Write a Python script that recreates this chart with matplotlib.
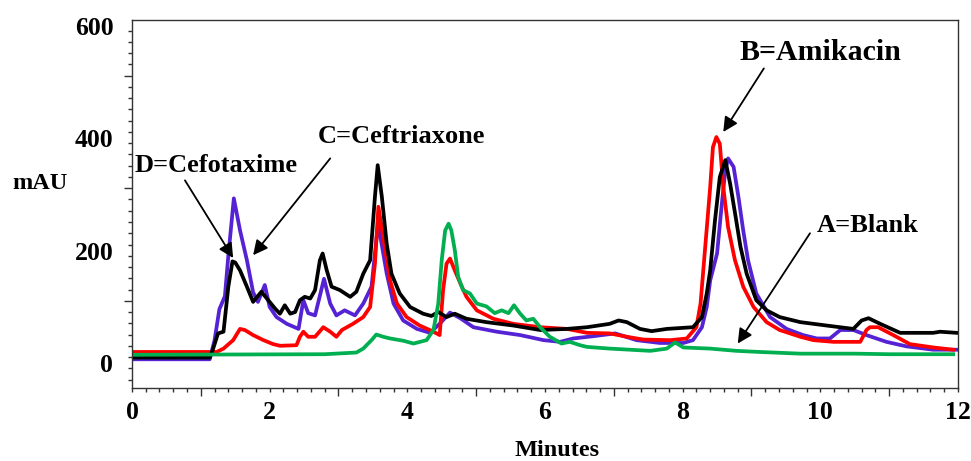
import matplotlib
matplotlib.use('Agg')
import matplotlib.pyplot as plt
import numpy as np
from matplotlib.ticker import FixedLocator, FuncFormatter, NullFormatter
from matplotlib.transforms import ScaledTranslation

plt.rcParams['font.family'] = ['Liberation Serif', 'DejaVu Serif']
plt.rcParams['font.weight'] = 'bold'

# A = Blank (green)
blank_x = [0, 2.8, 3.26, 3.36, 3.48, 3.55, 3.65, 3.75, 3.94, 4.09, 4.28, 4.38, 4.45, 4.50,
           4.55, 4.60, 4.64, 4.69, 4.74, 4.81, 4.91, 5.01, 5.15, 5.27, 5.37, 5.47, 5.55,
           5.64, 5.73, 5.83, 5.93, 6.07, 6.24, 6.36, 6.51, 6.61, 6.94, 7.53, 7.77, 7.89,
           8.01, 8.40, 8.78, 9.12, 9.71, 10.5, 11.0, 11.93]
blank_y = [24, 25, 28, 35, 50, 60, 56, 53, 49, 44, 50, 68, 115, 192,
           245, 257, 245, 210, 162, 139, 133, 115, 110, 98, 103, 98, 112,
           97, 85, 88, 73, 56, 44, 47, 41, 38, 35, 31, 35, 46,
           37, 35, 31, 29, 26, 26, 25, 25]

# B = Amikacin (red)
amik_x = [0, 1.23, 1.33, 1.47, 1.57, 1.64, 1.76, 1.91, 2.05, 2.15, 2.39, 2.44, 2.49, 2.56,
          2.66, 2.78, 2.88, 2.97, 3.05, 3.21, 3.36, 3.46, 3.53, 3.58, 3.68, 3.75, 3.85,
          3.99, 4.18, 4.38, 4.47, 4.52, 4.57, 4.62, 4.69, 4.77, 4.86, 5.01, 5.25, 5.54,
          5.93, 6.32, 6.61, 6.94, 7.19, 7.43, 7.82, 8.06, 8.20, 8.26, 8.32, 8.40, 8.44,
          8.49, 8.54, 8.59, 8.66, 8.76, 8.88, 9.03, 9.22, 9.41, 9.71, 9.90, 10.19, 10.58,
          10.67, 10.72, 10.84, 11.06, 11.30, 11.64, 11.93]
amik_y = [29, 29, 35, 50, 70, 68, 59, 50, 43, 40, 41, 56, 65, 56,
          56, 73, 65, 56, 68, 79, 91, 109, 186, 287, 210, 156, 115,
          91, 76, 65, 59, 139, 186, 195, 174, 151, 127, 103, 88, 79,
          73, 70, 63, 62, 56, 51, 50, 53, 73, 115, 204, 322, 393,
          411, 399, 322, 251, 192, 145, 109, 82, 68, 56, 50, 47, 47,
          68, 73, 73, 59, 43, 37, 33]

# C = Ceftriaxone (purple)
ceftri_x = [0, 1.13, 1.20, 1.27, 1.35, 1.40, 1.48, 1.57, 1.67, 1.76, 1.83, 1.93, 2.00,
            2.10, 2.25, 2.42, 2.49, 2.56, 2.66, 2.79, 2.88, 2.97, 3.09, 3.24, 3.36, 3.48,
            3.58, 3.60, 3.70, 3.80, 3.94, 4.14, 4.33, 4.47, 4.62, 4.77, 4.96, 5.30, 5.64,
            5.98, 6.22, 6.41, 6.70, 7.02, 7.33, 7.67, 8.01, 8.15, 8.28, 8.35, 8.40, 8.50,
            8.57, 8.62, 8.66, 8.74, 8.81, 8.88, 8.95, 9.07, 9.27, 9.51, 9.75, 9.95, 10.14,
            10.29, 10.48, 10.67, 10.96, 11.25, 11.64, 12.03]
ceftri_y = [16, 16, 50, 105, 128, 200, 302, 245, 192, 135, 118, 148, 109,
            91, 79, 70, 121, 98, 94, 159, 115, 94, 103, 94, 115, 145,
            263, 240, 169, 115, 85, 70, 63, 79, 99, 89, 73, 65, 59,
            50, 47, 53, 57, 62, 50, 45, 45, 50, 73, 109, 156, 204,
            293, 352, 373, 358, 305, 245, 192, 133, 91, 70, 59, 53, 53,
            68, 68, 59, 47, 39, 33, 33]

# D = Cefotaxime (black)
cefot_x = [0, 1.13, 1.18, 1.25, 1.33, 1.40, 1.46, 1.50, 1.57, 1.67, 1.76, 1.84, 1.88, 1.98,
           2.08, 2.15, 2.22, 2.30, 2.37, 2.44, 2.51, 2.59, 2.66, 2.73, 2.77, 2.83, 2.90,
           3.02, 3.17, 3.26, 3.36, 3.46, 3.53, 3.57, 3.63, 3.70, 3.77, 3.89, 4.04, 4.23,
           4.35, 4.45, 4.57, 4.69, 4.86, 5.15, 5.54, 5.93, 6.32, 6.61, 6.94, 7.07, 7.19,
           7.38, 7.55, 7.77, 8.15, 8.28, 8.35, 8.40, 8.47, 8.54, 8.62, 8.69, 8.77, 8.84,
           8.93, 9.07, 9.22, 9.41, 9.71, 10.09, 10.48, 10.60, 10.70, 10.87, 11.16, 11.64,
           11.74, 11.98]
cefot_y = [19, 19, 35, 62, 65, 145, 190, 188, 174, 145, 118, 130, 136, 121,
           106, 97, 112, 97, 100, 121, 127, 124, 139, 192, 204, 174, 145,
           139, 127, 136, 168, 192, 305, 361, 305, 222, 168, 133, 109, 97,
           93, 100, 91, 97, 88, 82, 76, 68, 70, 73, 79, 85, 82,
           70, 66, 70, 73, 91, 133, 174, 263, 340, 370, 328, 269, 216,
           168, 121, 103, 91, 82, 76, 70, 85, 89, 79, 63, 63,
           65, 63]

fig = plt.figure(figsize=(9.71, 4.61), dpi=100)
ax = fig.add_axes([0.1359, 0.1584, 0.8507, 0.7982])

lw = 2.7
ax.plot(ceftri_x, ceftri_y, color='#5522d4', lw=lw)
ax.plot(amik_x, amik_y, color='#ff0000', lw=lw)
ax.plot(cefot_x, cefot_y, color='black', lw=lw)
ax.plot(blank_x, blank_y, color='#00b050', lw=lw)

ax.set_xlim(0, 12)
ax.set_ylim(-35, 619)

# ticks: long ticks offset from labelled ones, as in the original
ax.xaxis.set_major_locator(FixedLocator([1, 3, 5, 7, 9, 11]))
ax.xaxis.set_major_formatter(NullFormatter())
ax.xaxis.set_minor_locator(FixedLocator(np.arange(0, 12.01, 0.2)))
ax.xaxis.set_minor_formatter(FuncFormatter(
    lambda v, p: f'{round(v)}' if abs(v - round(v)) < 1e-6 and round(v) % 2 == 0 else ''))
ax.yaxis.set_major_locator(FixedLocator([120, 320, 520]))
ax.yaxis.set_major_formatter(NullFormatter())
ax.yaxis.set_minor_locator(FixedLocator(np.arange(-20, 601, 20)))
ax.yaxis.set_minor_formatter(FuncFormatter(
    lambda v, p: f'{round(v)}' if round(v) % 200 == 0 and v >= 0 else ''))

ax.tick_params(which='major', length=5.5, width=1, color='#333333')
ax.tick_params(which='minor', length=3.1, width=1, color='#333333', labelsize=18.5)
ax.tick_params(axis='y', which='minor', pad=10.3)
ax.tick_params(axis='x', which='minor', pad=6.3)
# y labels sit a little above their ticks in the original
shift = ScaledTranslation(0, 0.05, fig.dpi_scale_trans)
for lab in ax.yaxis.get_minorticklabels():
    lab.set_transform(lab.get_transform() + shift)
for s in ax.spines.values():
    s.set_linewidth(1)
    s.set_color('#333333')

ax.set_ylabel('mAU', rotation=0, fontsize=17.5, fontweight='bold')
ax.yaxis.set_label_coords(-0.111, 0.527)
ax.set_xlabel('Minutes', fontsize=17.5, fontweight='bold')
ax.xaxis.set_label_coords(0.5145, -0.142)

# labels and arrows
tsize = 19
ax.text(0.044, 348, 'D=Cefotaxime', fontsize=tsize, fontweight='bold')
ax.text(2.70, 400, 'C=Ceftriaxone', fontsize=tsize, fontweight='bold')
ax.text(8.83, 548, 'B=Amikacin', fontsize=21.5, fontweight='bold')
ax.text(9.95, 242, 'A=Blank', fontsize=tsize, fontweight='bold')

arrow = dict(arrowstyle='-|>', lw=1.3, color='black', mutation_scale=22,
             shrinkA=0, shrinkB=0)
ax.annotate('', xy=(1.47, 196), xytext=(0.77, 334), arrowprops=arrow)
ax.annotate('', xy=(1.76, 201), xytext=(2.88, 373), arrowprops=arrow)
ax.annotate('', xy=(8.59, 420), xytext=(9.18, 533), arrowprops=arrow)
ax.annotate('', xy=(8.80, 44), xytext=(9.85, 240), arrowprops=arrow)

fig.savefig('out.png', dpi=100)
